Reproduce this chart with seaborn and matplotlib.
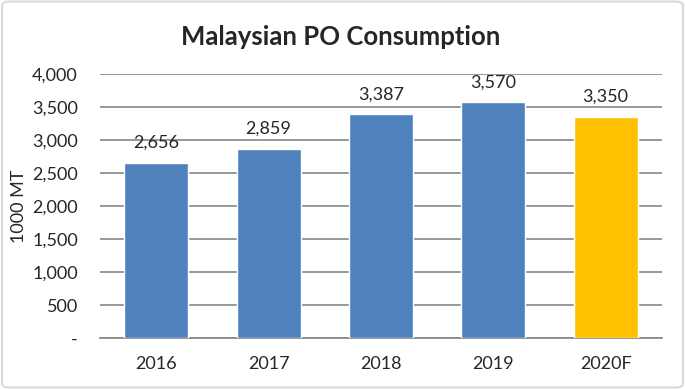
import matplotlib.pyplot as plt
import pandas as pd
import seaborn as sns
from matplotlib.patches import FancyBboxPatch

# Chart data
years = ['2016', '2017', '2018', '2019', '2020F']
consumption = [2656, 2859, 3387, 3570, 3350]
bar_colors = ['#4F81BD', '#4F81BD', '#4F81BD', '#4F81BD', '#FFC000']
yticks = [0, 500, 1000, 1500, 2000, 2500, 3000, 3500, 4000]
ytick_labels = ['-', '500', '1,000', '1,500', '2,000', '2,500', '3,000', '3,500', '4,000']

df = pd.DataFrame({'year': years, 'value': consumption})

sns.set_style('white')
plt.rcParams['font.family'] = ['Lato', 'DejaVu Sans']

fig = plt.figure(figsize=(6.85, 3.89), dpi=100)
ax = fig.add_axes([0.146, 0.131, 0.820, 0.679])

sns.barplot(data=df, x='year', y='value', hue='year', palette=bar_colors,
            legend=False, width=0.57, saturation=1, ax=ax, zorder=3)

ax.set_ylim(0, 4000)
ax.set_yticks(yticks, ytick_labels)
ax.yaxis.grid(True, color='#868686', linewidth=1.2, zorder=0)
ax.tick_params(axis='y', length=0, pad=16, labelsize=13)
ax.tick_params(axis='x', length=0, pad=13, labelsize=13)
for side in ['top', 'right', 'left']:
    ax.spines[side].set_visible(False)
ax.spines['bottom'].set_color('#868686')
ax.spines['bottom'].set_linewidth(1.2)

ax.set_xlabel('')
ax.set_ylabel('1000 MT', fontsize=13)
ax.yaxis.set_label_coords(-0.13, 0.5)

# Value labels above bars
for i, v in enumerate(consumption):
    ax.annotate(f'{v:,}', (i, v), xytext=(0, 14.5), textcoords='offset points',
                ha='center', va='center', fontsize=13)

fig.text(0.497, 0.905, 'Malaysian PO Consumption', ha='center', va='center',
         fontsize=18.5, fontweight='bold')

# Chart border
fig.patches.append(FancyBboxPatch((0.003, 0.004), 0.994, 0.992,
                                  boxstyle='round,pad=0,rounding_size=0.01',
                                  transform=fig.transFigure, fill=False,
                                  edgecolor='#D9D9D9', linewidth=1.5))

fig.savefig('out.png', dpi=100)
